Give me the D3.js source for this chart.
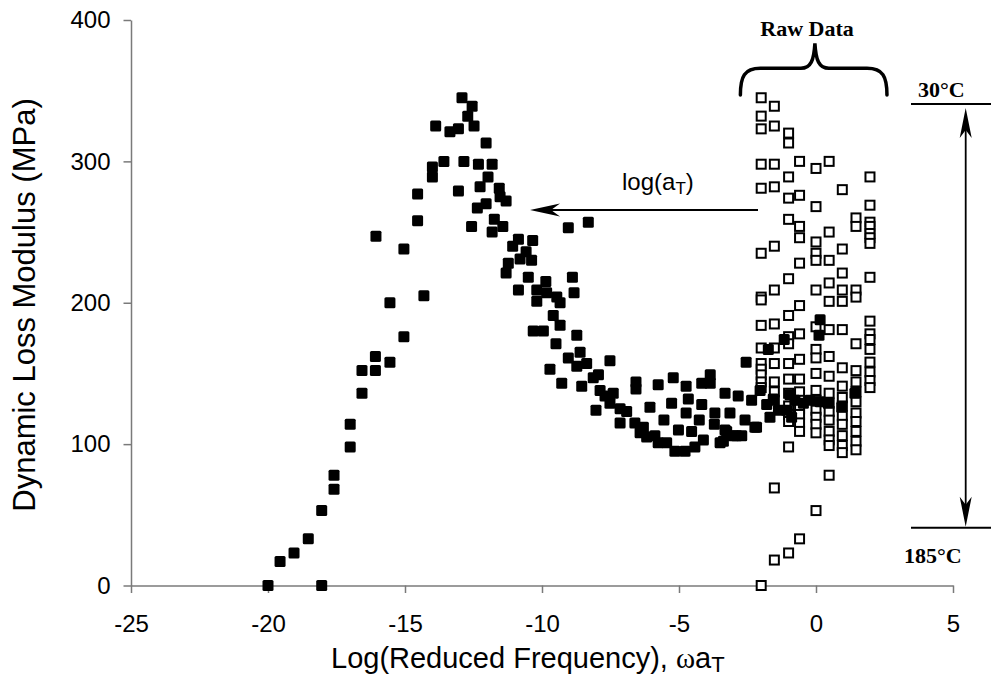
<!DOCTYPE html>
<html>
<head>
<meta charset="utf-8">
<script src="https://cdn.jsdelivr.net/npm/d3@7"></script>
<style>
  body { margin: 0; background: #fff; }
  svg { display: block; }
  .tick text { font-family: "Liberation Sans", Arial, sans-serif; font-size: 24px; fill: #000; }
  .tick line, .domain { stroke: #7a7a7a; stroke-width: 1.5; }
</style>
</head>
<body>
<div id="chart"></div>
<script>
// shifted master curve (filled squares): log reduced frequency / loss modulus (MPa)
const shiftedX = [-20.0,-19.56,-19.05,-18.53,-18.04,-18.04,-17.59,-17.59,-17.0,-17.0,-16.57,-16.57,-16.08,-16.08,-16.06,-15.55,-15.55,-15.04,-15.04,-14.54,
  -14.54,-14.31,-14.0,-14.0,-13.88,-13.58,-13.36,-13.05,-13.05,-12.92,-12.85,-12.71,-12.55,-12.48,-12.57,-12.36,-12.32,-12.26,-12.04,-12.04,
  -11.97,-11.82,-11.74,-11.82,-11.56,-11.53,-11.31,-11.43,-11.23,-11.31,-11.07,-10.86,-10.8,-10.58,-10.34,-10.38,-10.5,-10.86,-10.19,-9.86,
  -9.83,-9.46,-9.04,-8.31,-8.89,-8.83,-10.19,-9.34,-10.32,-9.95,-9.59,-9.34,-9.49,-8.73,-9.71,-9.28,-9.04,-8.61,-8.73,-8.37,
  -8.55,-8.13,-7.94,-7.52,-8.03,-7.88,-7.7,-7.4,-7.52,-7.15,-6.91,-7.15,-6.61,-6.3,-6.42,-6.18,-5.88,-5.76,-5.45,-5.15,
  -4.78,-4.42,-4.11,-3.5,-6.57,-6.57,-6.06,-5.55,-5.76,-5.21,-5.27,-5.02,-4.74,-4.66,-4.74,-4.17,-4.26,-4.54,-4.17,-3.86,
  -3.86,-3.69,-3.71,-3.32,-3.26,-3.14,-2.84,-2.71,-3.02,-2.59,-2.35,-2.23,-2.55,-2.04,-1.8,-1.56,-1.68,-1.37,-1.16,-1.74,
  -0.95,-0.77,-0.46,-0.22,0.15,-1.07,-0.89,-2.17,-2.9,-3.32,-3.38,0.94,0.45,1.42,0.15,0.11]
const shiftedY = [0,17,23,33,0,53,68,78,98,114,136,152,152,162,247,200,158,176,238,277,
  258,205,296,289,325,300,321,323,279,345,300,332,339,325,254,267,298,282,313,270,
  289,298,259,250,281,275,272,254,228,221,240,245,231,236,244,230,218,209,209,215,
  207,204,253,257,218,207,201,200,180,180,191,184,171,177,153,143,161,165,155,157,
  141,147,149,159,124,138,134,136,129,125,123,115,115,112,108,105,106,101,101,95,
  95,98,103,101,144,139,126,117,142,147,129,110,141,132,122,128,117,109,143,149,
  143,122,114,136,109,122,134,106,106,117,131,112,158,138,128,132,119,124,174,167,
  135,131,129,131,130,124,119,112,106,110,102,126,129,136,188,177]

// raw data (open squares): one column of moduli per test frequency
const rawFreq = [-2, -1.52, -1, -0.6, 0, 0.48, 0.96, 1.46, 1.97]
const rawModulus = [
  [345,332,323,298,281,235,204,202,184,168,157,153,149,144,140,0],
  [339,325,298,282,240,209,185,168,157,144,137,131,69,18],
  [320,313,289,274,259,217,191,176,171,157,146,136,127,121,116,98,23],
  [300,276,254,246,228,198,178,160,146,137,131,125,121,115,109,33],
  [295,268,243,235,230,209,183,167,161,150,138,131,124,119,114,108,53],
  [300,250,230,214,201,181,162,148,136,129,123,117,109,103,99,78],
  [280,238,221,209,201,181,154,141,133,127,120,114,106,99,94],
  [260,254,209,204,171,152,144,137,130,122,116,109,102,96],
  [289,269,257,254,249,246,242,218,187,178,174,167,158,151,145,140]
]

const xTicks = [-25, -20, -15, -10, -5, 0, 5]
const yTicks = [0, 100, 200, 300, 400]

const width = 991, height = 686
const margin = { left: 131, right: 38, top: 20, bottom: 100.5 }

const svg = d3.select("#chart").append("svg")
    .attr("width", width)
    .attr("height", height)

const x = d3.scaleLinear().domain([-25, 5]).range([margin.left, width - margin.right])
const y = d3.scaleLinear().domain([0, 400]).range([height - margin.bottom, margin.top])

// axes (plain hyphen minus like the original)
svg.append("g")
    .attr("transform", `translate(0,${y(0)})`)
    .call(d3.axisBottom(x).tickValues(xTicks).tickFormat(d => String(d))
      .tickSize(7.5).tickSizeOuter(0).tickPadding(22))
svg.append("g")
    .attr("transform", `translate(${x(-25)},0)`)
    .call(d3.axisLeft(y).tickValues(yTicks).tickFormat(d => String(d))
      .tickSize(7.5).tickSizeOuter(0).tickPadding(13))

// axis titles
svg.append("text")
    .attr("transform", `translate(35,${(98 + 512) / 2}) rotate(-90)`)
    .attr("text-anchor", "middle")
    .style("font-family", "Liberation Sans, Arial, sans-serif")
    .style("font-size", "31px")
    .text("Dynamic Loss Modulus (MPa)")

const xTitle = svg.append("text")
    .attr("x", 331).attr("y", 668)
    .style("font-family", "Liberation Sans, Arial, sans-serif")
    .style("font-size", "29px")
xTitle.append("tspan").text("Log(Reduced Frequency), ")
xTitle.append("tspan").style("font-family", "Liberation Serif, serif").style("font-size", "29px").text("ω")
xTitle.append("tspan").style("font-size", "29px").text("a")
xTitle.append("tspan").style("font-size", "22px").attr("dy", 4).text("T")

// raw data points
const rawPoints = rawFreq.flatMap((f, i) => rawModulus[i].map(m => [f, m]))
svg.append("g").selectAll("rect")
  .data(rawPoints)
  .join("rect")
    .attr("x", d => x(d[0]) - 4.5)
    .attr("y", d => y(d[1]) - 4.5)
    .attr("width", 9)
    .attr("height", 9)
    .attr("fill", "#fff")
    .attr("stroke", "#000")
    .attr("stroke-width", 2)

// shifted points
svg.append("g").selectAll("rect")
  .data(shiftedX.map((v, i) => [v, shiftedY[i]]))
  .join("rect")
    .attr("x", d => x(d[0]) - 5.5)
    .attr("y", d => y(d[1]) - 5.5)
    .attr("width", 11)
    .attr("height", 11)
    .attr("rx", 1.5)
    .attr("fill", "#000")

// brace over raw data
const braceL = x(-2.76), braceR = x(2.59), braceM = x(-0.04)
const bBot = 95, bMid = 68.3, bTop = 43.3
svg.append("path")
    .attr("d", `M${braceL},${bBot} C${braceL},${bMid + 8} ${braceL + 4},${bMid} ${braceL + 20},${bMid}
      L${braceM - 14},${bMid} C${braceM - 4},${bMid} ${braceM - 1},${bMid - 8} ${braceM},${bTop}
      C${braceM + 1},${bMid - 8} ${braceM + 4},${bMid} ${braceM + 14},${bMid}
      L${braceR - 20},${bMid} C${braceR - 4},${bMid} ${braceR},${bMid + 8} ${braceR},${bBot}`)
    .attr("fill", "none")
    .attr("stroke", "#000")
    .attr("stroke-width", 3.5)
    .attr("stroke-linecap", "round")

const serifBold = sel => sel.style("font-family", "Liberation Serif, 'Times New Roman', serif")
    .style("font-weight", "bold").style("font-size", "22px")

svg.append("text").attr("x", 807).attr("y", 36).attr("text-anchor", "middle")
    .call(serifBold).text("Raw Data")

// log(aT) shift arrow
const ay = 210, tipX = 530, tailX = 758
svg.append("line")
    .attr("x1", tipX + 15).attr("x2", tailX).attr("y1", ay).attr("y2", ay)
    .attr("stroke", "#000").attr("stroke-width", 2)
svg.append("path")
    .attr("d", `M${tipX},${ay} L${tipX + 30},${ay - 6.5} L${tipX + 21},${ay} L${tipX + 30},${ay + 6.5} Z`)
    .attr("fill", "#000")

const lbl = svg.append("text").attr("x", 622).attr("y", 190)
    .style("font-family", "Liberation Sans, Arial, sans-serif").style("font-size", "24px")
lbl.append("tspan").text("log(a")
lbl.append("tspan").style("font-size", "17px").attr("dy", 4).text("T")
lbl.append("tspan").attr("dy", -4).text(")")

// temperature range marker
const vx = 965.7, topY = 104, botY = 527.7
svg.append("line").attr("x1", 911).attr("x2", 991).attr("y1", topY).attr("y2", topY)
    .attr("stroke", "#000").attr("stroke-width", 2)
svg.append("line").attr("x1", 911).attr("x2", 991).attr("y1", botY).attr("y2", botY)
    .attr("stroke", "#000").attr("stroke-width", 2)
svg.append("line").attr("x1", vx).attr("x2", vx).attr("y1", topY + 20).attr("y2", botY - 20)
    .attr("stroke", "#000").attr("stroke-width", 1.8)
svg.append("path")
    .attr("d", `M${vx},${topY + 4} L${vx + 6},${topY + 34} L${vx},${topY + 26} L${vx - 6},${topY + 34} Z`)
    .attr("fill", "#000")
svg.append("path")
    .attr("d", `M${vx},${botY - 1} L${vx + 6},${botY - 31} L${vx},${botY - 23} L${vx - 6},${botY - 31} Z`)
    .attr("fill", "#000")

svg.append("text").attr("x", 918).attr("y", 96.5).call(serifBold).text("30°C")
svg.append("text").attr("x", 904).attr("y", 562.5).call(serifBold).text("185°C")
</script>
</body>
</html>
